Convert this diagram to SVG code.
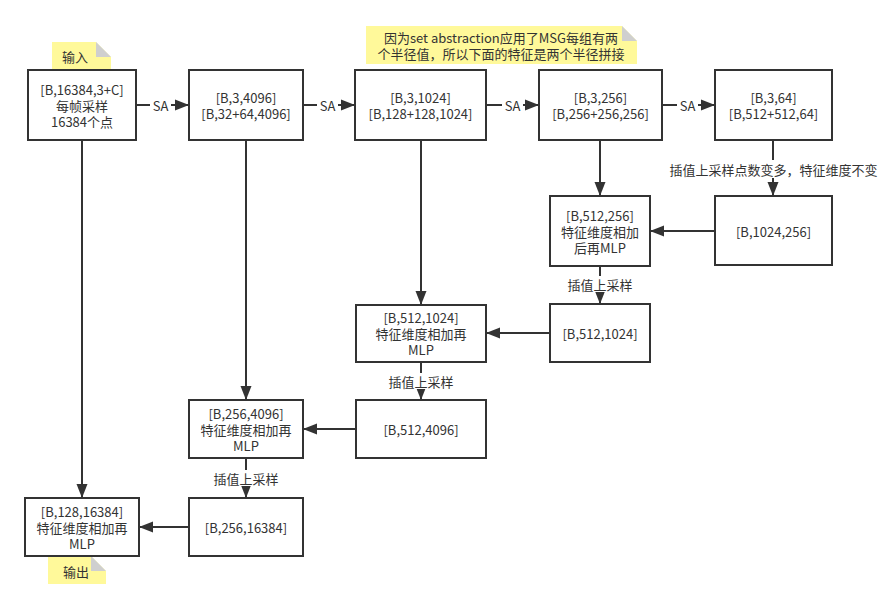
<svg xmlns="http://www.w3.org/2000/svg" width="892" height="610" viewBox="0 0 892 610">
<defs>
<style>
.box{fill:#fff;stroke:#333;stroke-width:2}
.t{font-family:"Noto Sans CJK SC","Noto Sans",sans-serif;font-size:13px;fill:#333;text-anchor:middle;dominant-baseline:central}
.c{fill:none;stroke:#333;stroke-width:2}
.lb{fill:#fff}
.note{fill:#fff99a}
.fold{fill:#cfcfcf}
</style>
<marker id="arr" markerUnits="userSpaceOnUse" markerWidth="16" markerHeight="14" refX="14" refY="6" orient="auto" viewBox="0 0 16 12">
<path d="M0,0.5 L14,6 L0,11.5 Z" fill="#333"/>
</marker>
</defs>
<rect width="892" height="610" fill="#fff"/>

<g id="connectors">
<path class="c" d="M136,105 H189" marker-end="url(#arr)"/>
<path class="c" d="M303,105 H355" marker-end="url(#arr)"/>
<path class="c" d="M486,105 H539" marker-end="url(#arr)"/>
<path class="c" d="M662,105 H715" marker-end="url(#arr)"/>
<path class="c" d="M773,140 V196" marker-end="url(#arr)"/>
<path class="c" d="M715,231 H650" marker-end="url(#arr)"/>
<path class="c" d="M600,140 V196" marker-end="url(#arr)"/>
<path class="c" d="M600,266 V304" marker-end="url(#arr)"/>
<path class="c" d="M550,333 H486" marker-end="url(#arr)"/>
<path class="c" d="M421,140 V305" marker-end="url(#arr)"/>
<path class="c" d="M421,362 V400" marker-end="url(#arr)"/>
<path class="c" d="M356,429 H303" marker-end="url(#arr)"/>
<path class="c" d="M246,140 V400" marker-end="url(#arr)"/>
<path class="c" d="M246,458 V498" marker-end="url(#arr)"/>
<path class="c" d="M189,527 H139" marker-end="url(#arr)"/>
<path class="c" d="M82,140 V498" marker-end="url(#arr)"/>
<rect class="lb" x="150" y="97" width="21" height="16"/><text class="t" x="160.5" y="105">SA</text>
<rect class="lb" x="317" y="97" width="21" height="16"/><text class="t" x="327.5" y="105">SA</text>
<rect class="lb" x="502" y="97" width="21" height="16"/><text class="t" x="512.5" y="105">SA</text>
<rect class="lb" x="677" y="97" width="21" height="16"/><text class="t" x="687.5" y="105">SA</text>
<rect class="lb" x="668" y="160" width="211" height="18"/><text class="t" x="773.5" y="169">插值上采样点数变多，特征维度不变</text>
<rect class="lb" x="566" y="276" width="68" height="16"/><text class="t" x="600" y="284">插值上采样</text>
<rect class="lb" x="387" y="373" width="68" height="16"/><text class="t" x="421" y="381">插值上采样</text>
<rect class="lb" x="212" y="470" width="68" height="16"/><text class="t" x="246" y="478">插值上采样</text>
</g>

<g id="note-input">
<path class="note" d="M52,42 H96 L111,57 V70 H52 Z"/>
<path class="fold" d="M96,42 L111,57 H96 Z"/>
<text class="t" x="75" y="56">输入</text>
</g>
<g id="note-msg">
<path class="note" d="M366,26 H622 L637,41 V64 H366 Z"/>
<path class="fold" d="M622,26 L637,41 H622 Z"/>
<text class="t" x="501" y="37">因为set abstraction应用了MSG每组有两</text>
<text class="t" x="501" y="53">个半径值，所以下面的特征是两个半径拼接</text>
</g>
<g id="note-output">
<path class="note" d="M48,556 H91 L106,571 V584 H48 Z"/>
<path class="fold" d="M91,556 L106,571 H91 Z"/>
<text class="t" x="76" y="571">输出</text>
</g>

<g id="n1">
<rect class="box" x="28" y="70" width="108" height="70"/>
<text class="t" x="82" y="89">[B,16384,3+C]</text>
<text class="t" x="82" y="105">每帧采样</text>
<text class="t" x="82" y="121">16384个点</text>
</g>
<g id="n2">
<rect class="box" x="189" y="70" width="114" height="70"/>
<text class="t" x="246" y="97">[B,3,4096]</text>
<text class="t" x="246" y="113">[B,32+64,4096]</text>
</g>
<g id="n3">
<rect class="box" x="355" y="70" width="131" height="70"/>
<text class="t" x="420.5" y="97">[B,3,1024]</text>
<text class="t" x="420.5" y="113">[B,128+128,1024]</text>
</g>
<g id="n4">
<rect class="box" x="539" y="70" width="123" height="70"/>
<text class="t" x="600.5" y="97">[B,3,256]</text>
<text class="t" x="600.5" y="113">[B,256+256,256]</text>
</g>
<g id="n5">
<rect class="box" x="715" y="70" width="117" height="70"/>
<text class="t" x="773.5" y="97">[B,3,64]</text>
<text class="t" x="773.5" y="113">[B,512+512,64]</text>
</g>
<g id="n6">
<rect class="box" x="715" y="196" width="117" height="69"/>
<text class="t" x="773.5" y="231">[B,1024,256]</text>
</g>
<g id="n7">
<rect class="box" x="550" y="196" width="100" height="70"/>
<text class="t" x="600" y="215">[B,512,256]</text>
<text class="t" x="600" y="231">特征维度相加</text>
<text class="t" x="600" y="247">后再MLP</text>
</g>
<g id="n8">
<rect class="box" x="550" y="304" width="100" height="58"/>
<text class="t" x="600" y="333">[B,512,1024]</text>
</g>
<g id="n9">
<rect class="box" x="356" y="305" width="130" height="57"/>
<text class="t" x="421" y="317">[B,512,1024]</text>
<text class="t" x="421" y="333">特征维度相加再</text>
<text class="t" x="421" y="349">MLP</text>
</g>
<g id="n10">
<rect class="box" x="356" y="400" width="130" height="58"/>
<text class="t" x="421" y="429">[B,512,4096]</text>
</g>
<g id="n11">
<rect class="box" x="189" y="400" width="114" height="58"/>
<text class="t" x="246" y="413">[B,256,4096]</text>
<text class="t" x="246" y="429">特征维度相加再</text>
<text class="t" x="246" y="445">MLP</text>
</g>
<g id="n12">
<rect class="box" x="189" y="498" width="114" height="58"/>
<text class="t" x="246" y="527">[B,256,16384]</text>
</g>
<g id="n13">
<rect class="box" x="25" y="498" width="114" height="58"/>
<text class="t" x="82" y="511">[B,128,16384]</text>
<text class="t" x="82" y="527">特征维度相加再</text>
<text class="t" x="82" y="543">MLP</text>
</g>
</svg>
